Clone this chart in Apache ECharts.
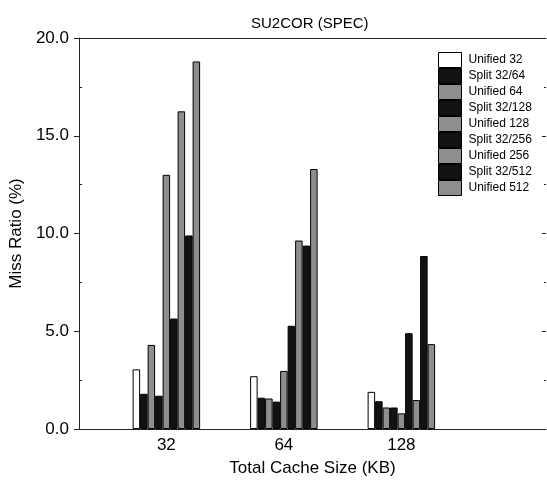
<!DOCTYPE html>
<html>
<head>
<meta charset="utf-8">
<script src="https://cdn.jsdelivr.net/npm/echarts@6/dist/echarts.min.js"></script>
<style>html,body{margin:0;padding:0;background:#fff;}#c{width:547px;height:486px;}</style>
</head>
<body>
<div id="c"></div>
<script>
const categories = ['32', '64', '128'];
const seriesNames = ['Unified 32', 'Split 32/64', 'Unified 64', 'Split 32/128', 'Unified 128', 'Split 32/256', 'Unified 256', 'Split 32/512', 'Unified 512'];
const unified32 = [3.05, 2.7, 1.9];
const split32_64 = [1.8, 1.6, 1.42];
const unified64 = [4.3, 1.56, 1.1];
const split32_128 = [1.7, 1.4, 1.1];
const unified128 = [13.0, 2.97, 0.8];
const split32_256 = [5.65, 5.28, 4.9];
const unified256 = [16.25, 9.64, 1.48];
const split32_512 = [9.9, 9.38, 8.85];
const unified512 = [18.8, 13.3, 4.34];
const yTicks = [0, 5, 10, 15, 20];
const yMinorTicks = [2.5, 7.5, 12.5, 17.5];

const values = [unified32, split32_64, unified64, split32_128, unified128, split32_256, unified256, split32_512, unified512];
const WHITE = '#ffffff', BLACK = '#121212', GRAY = '#8e8e8e';
const colors = [WHITE, BLACK, GRAY, BLACK, GRAY, BLACK, GRAY, BLACK, GRAY];
const FONT = "'Liberation Sans', Arial, Helvetica, sans-serif";
const XMIN = 0.25636, XMAX = 4.23094;

const series = seriesNames.map((name, i) => ({
  name: name,
  type: 'bar',
  xAxisIndex: 0,
  yAxisIndex: 0,
  barWidth: 7.5,
  barGap: '0%',
  itemStyle: { color: colors[i], borderColor: '#000', borderWidth: 1 },
  data: values[i].map((v, k) => [k + 1, v])
}));

const chart = echarts.init(document.getElementById('c'), null, { renderer: 'canvas' });
const yBase = { type: 'value', min: 0, max: 20, interval: 5, splitLine: { show: false } };
chart.setOption({
  backgroundColor: '#fff',
  animation: false,
  textStyle: { fontFamily: FONT },
  title: {
    text: 'SU2COR (SPEC)', left: 246, top: 11,
    textStyle: { fontFamily: FONT, fontSize: 15, fontWeight: 'normal', color: '#000' }
  },
  legend: {
    orient: 'vertical', left: 438, top: 52, itemWidth: 23, itemHeight: 15, itemGap: 0,
    icon: 'rect', padding: 0,
    itemStyle: { borderColor: '#000', borderWidth: 1 },
    textStyle: { fontFamily: FONT, fontSize: 12, color: '#000', lineHeight: 12, padding: [0, 0, 0, 2] },
    data: seriesNames
  },
  grid: { left: 77, right: 1, top: 38, bottom: 57 },
  xAxis: [
    {
      type: 'value', min: XMIN, max: XMAX, position: 'bottom',
      axisLine: { show: true, onZero: false, lineStyle: { color: '#222', width: 1 } },
      axisTick: { show: false },
      splitLine: { show: false },
      axisLabel: {
        customValues: [1, 2, 3], formatter: v => categories[Math.round(v) - 1] || '',
        fontFamily: FONT, fontSize: 17, color: '#000', margin: 8
      },
      name: 'Total Cache Size (KB)', nameLocation: 'middle', nameGap: 31,
      nameTextStyle: { fontFamily: FONT, fontSize: 17, color: '#000' }
    },
    {
      type: 'value', min: XMIN, max: XMAX, position: 'top',
      axisLine: { show: true, onZero: false, lineStyle: { color: '#222', width: 1 } },
      axisTick: { show: false }, axisLabel: { show: false }, splitLine: { show: false }
    }
  ],
  yAxis: [
    Object.assign({}, yBase, {
      position: 'left',
      axisLine: { show: true, onZero: false, lineStyle: { color: '#222', width: 1 } },
      axisTick: { show: true, inside: false, length: 5, customValues: yTicks, lineStyle: { color: '#222' } },
      axisLabel: { customValues: yTicks, formatter: v => v.toFixed(1), fontFamily: FONT, fontSize: 17, color: '#000', margin: 10 },
      name: 'Miss Ratio (%)', nameLocation: 'middle', nameGap: 52,
      nameTextStyle: { fontFamily: FONT, fontSize: 17, color: '#000' }
    }),
    Object.assign({}, yBase, {
      position: 'left',
      axisLine: { show: false, onZero: false },
      axisTick: { show: true, inside: true, length: 3, customValues: yMinorTicks, lineStyle: { color: '#222' } },
      axisLabel: { show: false }
    }),
    Object.assign({}, yBase, {
      position: 'right',
      axisLine: { show: false, onZero: false },
      axisTick: { show: true, inside: true, length: 4, customValues: [5, 10, 15], lineStyle: { color: '#222' } },
      axisLabel: { show: false }
    }),
    Object.assign({}, yBase, {
      position: 'right',
      axisLine: { show: false, onZero: false },
      axisTick: { show: true, inside: true, length: 2, customValues: yMinorTicks, lineStyle: { color: '#222' } },
      axisLabel: { show: false }
    })
  ],
  series: series
});
</script>
</body>
</html>
